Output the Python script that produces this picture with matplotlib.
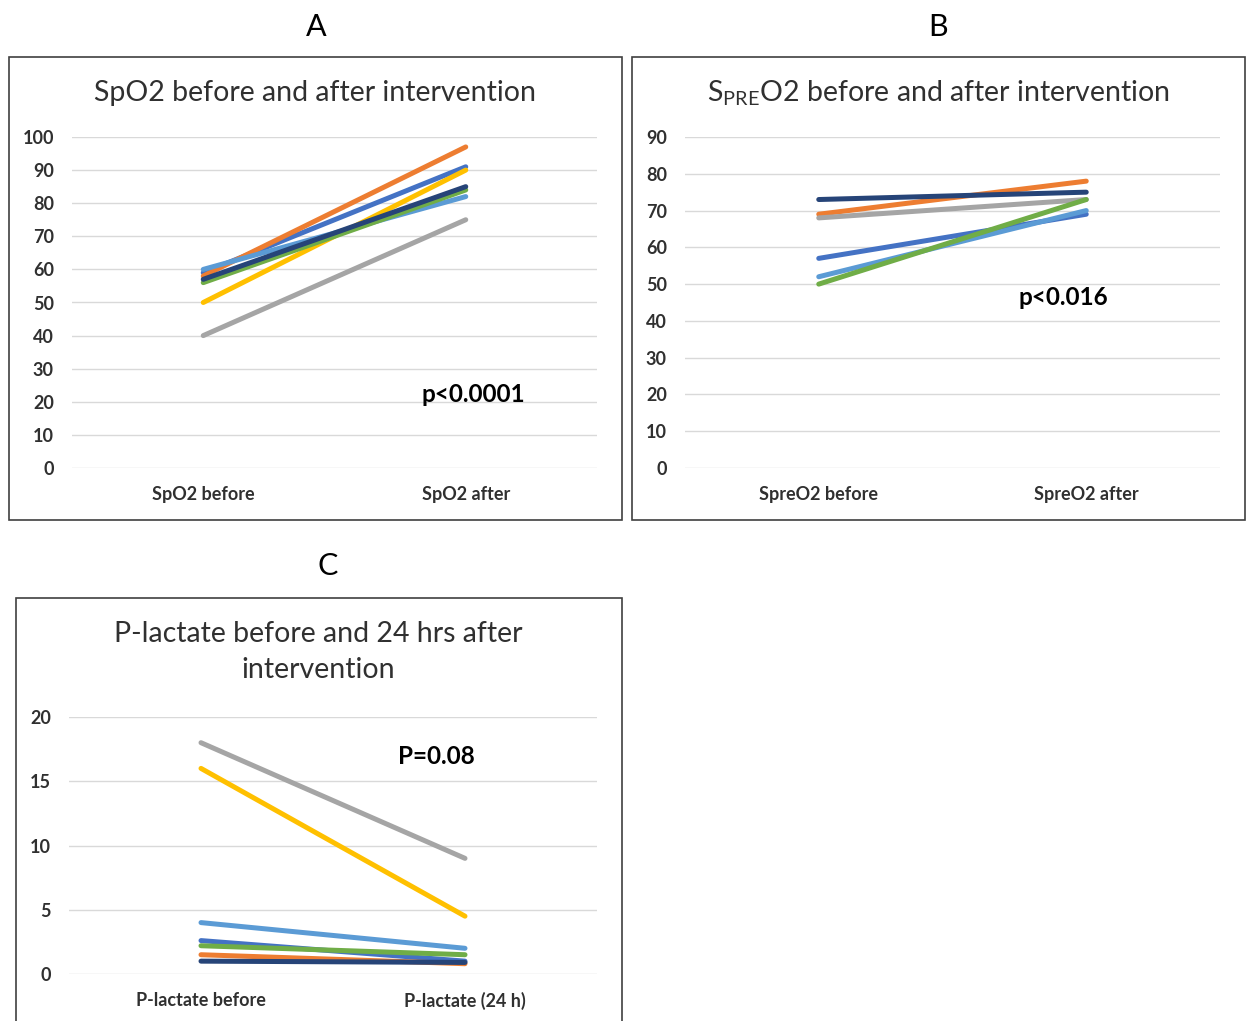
import matplotlib
matplotlib.use("Agg")
import matplotlib.pyplot as plt
from matplotlib.patches import Rectangle

plt.rcParams['font.family'] = ['Lato', 'DejaVu Sans']
plt.rcParams['mathtext.fontset'] = 'custom'
plt.rcParams['mathtext.rm'] = 'Lato'

W, H = 1248, 1021

# ---- data ----
series_colors = ['#4472C4', '#ED7D31', '#A5A5A5', '#FFC000', '#5B9BD5', '#70AD47', '#264478']

spo2_cats = ['SpO2 before', 'SpO2 after']
spo2_before = [59, 58, 40, 50, 60, 56, 57]
spo2_after = [91, 97, 75, 90, 82, 84, 85]

spre_cats = ['SpreO2 before', 'SpreO2 after']
spre_before = [57, 69, 68, None, 52, 50, 73]
spre_after = [69, 78, 73, None, 70, 73, 75]

lac_cats = ['P-lactate before', 'P-lactate (24 h)']
lac_before = [2.6, 1.5, 18, 16, 4.0, 2.2, 1.0]
lac_after = [1.0, 0.8, 9.0, 4.5, 2.0, 1.5, 0.9]

fig = plt.figure(figsize=(W / 100, H / 100), dpi=100)


def fx(x):
    return x / W


def fy(y):
    return 1 - y / H


def box(x0, y0, x1, y1):
    fig.patches.append(Rectangle((fx(x0), fy(y1)), fx(x1) - fx(x0), fy(y0) - fy(y1),
                                 transform=fig.transFigure, fill=False,
                                 edgecolor='#404040', linewidth=1.2))


def make_axes(x0, y0, x1, y1, cats, before, after, ymax, step):
    ax = fig.add_axes([fx(x0), fy(y1), fx(x1) - fx(x0), fy(y0) - fy(y1)])
    ax.set_xlim(-0.5, 1.5)
    ax.set_ylim(0, ymax)
    ax.set_yticks(range(0, ymax + 1, step))
    ax.grid(axis='y', color='#D9D9D9', linewidth=1)
    ax.set_axisbelow(True)
    for s in ax.spines.values():
        s.set_visible(False)
    ax.tick_params(length=0)
    ax.set_xticks([0, 1])
    ax.set_xticklabels(cats, fontsize=13, fontweight='bold', color='#303030')
    ax.tick_params(axis='x', pad=13)
    ax.tick_params(axis='y', pad=13)
    for lab in ax.get_yticklabels():
        lab.set_fontsize(13)
        lab.set_fontweight('bold')
        lab.set_color('#303030')
    for b, a, c in zip(before, after, series_colors):
        if b is None:
            continue
        ax.plot([0, 1], [b, a], color=c, linewidth=3.6, solid_capstyle='round')
    ax.patch.set_alpha(0)
    return ax


# Panel boxes
box(9, 57, 622, 520)
box(632, 57, 1245, 520)
box(16, 598, 622, 1030)

# Panel letters
fig.text(fx(316), fy(27), 'A', fontsize=22, ha='center', va='center')
fig.text(fx(938), fy(27), 'B', fontsize=22, ha='center', va='center')
fig.text(fx(328), fy(566), 'C', fontsize=22, ha='center', va='center')

# Titles
fig.text(fx(315), fy(93), 'SpO2 before and after intervention', fontsize=20.5,
         ha='center', va='center', color='#303030')
fig.text(fx(938), fy(93), r'S$_{\mathrm{PRE}}$O2 before and after intervention', fontsize=20.5,
         ha='center', va='center', color='#303030')
fig.text(fx(318), fy(652), 'P-lactate before and 24 hrs after\nintervention', fontsize=20.5,
         ha='center', va='center', color='#303030', linespacing=1.45)

axA = make_axes(72, 137, 597, 468, spo2_cats, spo2_before, spo2_after, 100, 10)
axB = make_axes(685, 137, 1220, 468, spre_cats, spre_before, spre_after, 90, 10)
axC = make_axes(69, 717, 597, 974, lac_cats, lac_before, lac_after, 20, 5)

fig.text(fx(473), fy(395), 'p<0.0001', fontsize=17.5, fontweight='bold', ha='center', va='center')
fig.text(fx(1063), fy(297), 'p<0.016', fontsize=17.5, fontweight='bold', ha='center', va='center')
fig.text(fx(436), fy(757), 'P=0.08', fontsize=17.5, fontweight='bold', ha='center', va='center')

fig.savefig('out.png', dpi=100, facecolor='white')
